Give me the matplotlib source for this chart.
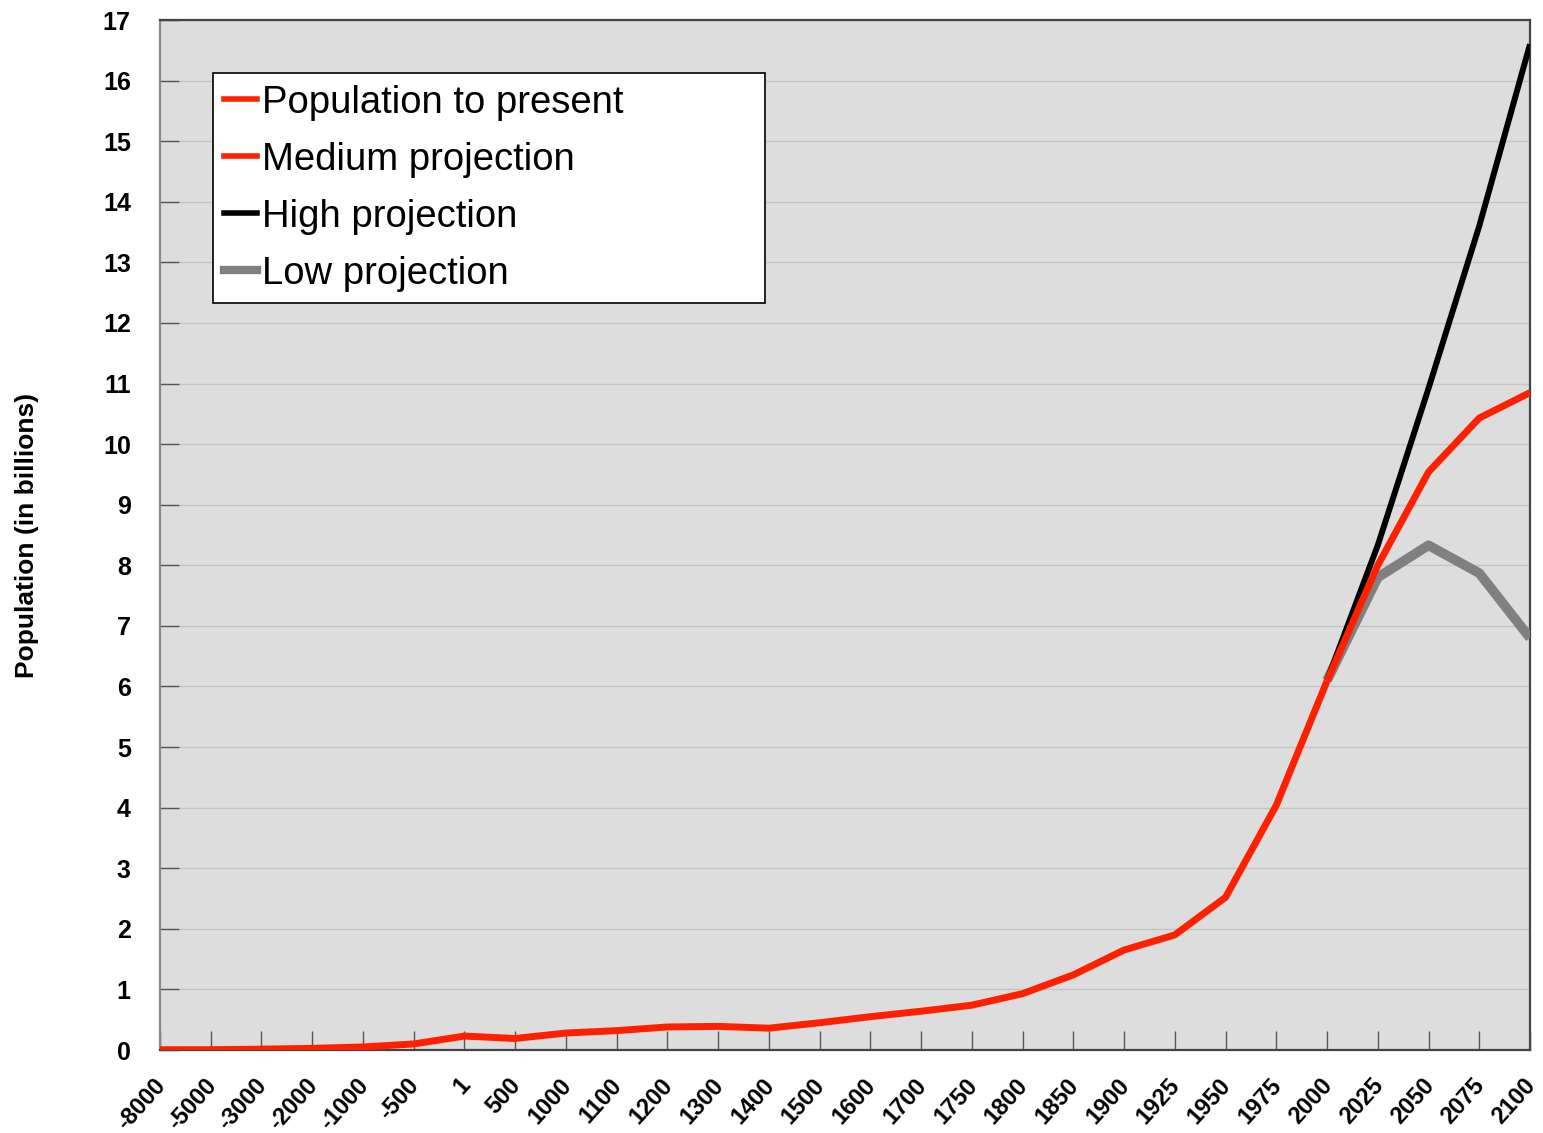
import matplotlib
matplotlib.use("Agg")
import matplotlib.pyplot as plt
import matplotlib.transforms as mtrans
from matplotlib.lines import Line2D

plt.rcParams['font.family'] = ['Liberation Sans', 'DejaVu Sans']

# categories on the x axis (evenly spaced, not to scale)
years = ['-8000', '-5000', '-3000', '-2000', '-1000', '-500', '1', '500',
         '1000', '1100', '1200', '1300', '1400', '1500', '1600', '1700',
         '1750', '1800', '1850', '1900', '1925', '1950', '1975', '2000',
         '2025', '2050', '2075', '2100']

# population to present (billions), -8000 .. 2000
hist_pop = [0.005, 0.005, 0.014, 0.027, 0.05, 0.1, 0.23, 0.19,
            0.28, 0.32, 0.38, 0.39, 0.36, 0.45, 0.55, 0.64,
            0.74, 0.93, 1.24, 1.65, 1.9, 2.52, 4.04, 6.09]

# projections, 2000 .. 2100
proj_years = ['2000', '2025', '2050', '2075', '2100']
medium_pop = [6.09, 8.0, 9.54, 10.43, 10.85]
high_pop = [6.1, 8.33, 10.92, 13.6, 16.6]
low_pop = [6.1, 7.8, 8.33, 7.87, 6.8]

RED = '#ff2000'
GRAY = '#808080'

x_hist = list(range(len(hist_pop)))
x_proj = [years.index(y) for y in proj_years]

fig = plt.figure(figsize=(15.43, 11.33), dpi=100)
ax = fig.add_axes([160 / 1543, 1 - 1050 / 1133, 1370 / 1543, 1030 / 1133])
ax.set_facecolor('#dddddd')

ax.plot(x_proj, low_pop, color=GRAY, lw=7, solid_capstyle='butt', zorder=3)
ax.plot(x_proj, high_pop, color='black', lw=4.3, solid_capstyle='butt', zorder=4)
ax.plot(x_proj, medium_pop, color=RED, lw=5, solid_capstyle='butt', zorder=5)
ax.plot(x_hist, hist_pop, color=RED, lw=5, solid_capstyle='butt', zorder=5)

ax.set_xlim(0, len(years) - 1)
ax.set_ylim(0, 17)
ax.set_yticks(range(0, 18))
ax.set_xticks(range(len(years)))

ax.tick_params(axis='both', direction='in', length=14, width=1, color='#555555')
ax.tick_params(axis='x', pad=17)
ax.tick_params(axis='y', pad=21)

ax.set_xticklabels(years, rotation=48, ha='right', va='top',
                   rotation_mode='anchor', fontsize=17, fontweight='bold')
# nudge the rotated labels left so the last one stays inside the figure
shift = mtrans.ScaledTranslation(-0.07, 0, fig.dpi_scale_trans)
for lbl in ax.get_xticklabels():
    lbl.set_transform(lbl.get_transform() + shift)
for lbl in ax.get_yticklabels():
    lbl.set_fontsize(18)
    lbl.set_fontweight('bold')

ax.yaxis.grid(True, color='#c4c4c4', lw=1)
ax.set_axisbelow(True)
for s in ax.spines.values():
    s.set_color('#444444')
    s.set_linewidth(1.6)
ax.spines['left'].set_color('#888888')

ax.set_ylabel('Population (in billions)', fontsize=19, fontweight='bold', labelpad=46)

handles = [Line2D([], [], color=RED, lw=4),
           Line2D([], [], color=RED, lw=4),
           Line2D([], [], color='black', lw=4),
           Line2D([], [], color=GRAY, lw=6)]
labels = ['Population to present', 'Medium projection', 'High projection', 'Low projection']
leg = ax.legend(handles, labels, loc='upper left', mode='expand',
                bbox_to_anchor=(0.0387, 0.728, 0.403, 0.2205),
                fontsize=27.5, fancybox=False, framealpha=1, edgecolor='black',
                handlelength=0.85, handletextpad=0.12, labelspacing=0.55,
                borderpad=0.3, borderaxespad=0)
leg.get_frame().set_linewidth(1.2)

fig.savefig('out.png', dpi=100)
